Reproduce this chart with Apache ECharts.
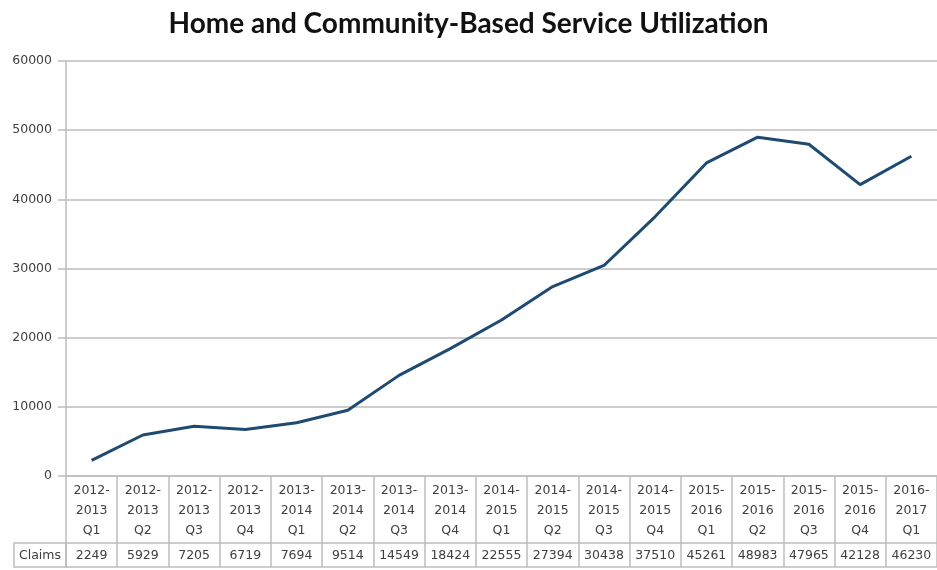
<!DOCTYPE html>
<html>
<head>
<meta charset="utf-8">
<script src="https://cdn.jsdelivr.net/npm/echarts@6/dist/echarts.min.js"></script>
<style>
html,body{margin:0;padding:0;background:#fff}
#main{width:937px;height:570px}
</style>
</head>
<body>
<div id="main"></div>
<script>
// quarters (fiscal year + quarter)
var quarters = ['2012-\n2013\nQ1','2012-\n2013\nQ2','2012-\n2013\nQ3','2012-\n2013\nQ4',
    '2013-\n2014\nQ1','2013-\n2014\nQ2','2013-\n2014\nQ3','2013-\n2014\nQ4',
    '2014-\n2015\nQ1','2014-\n2015\nQ2','2014-\n2015\nQ3','2014-\n2015\nQ4',
    '2015-\n2016\nQ1','2015-\n2016\nQ2','2015-\n2016\nQ3','2015-\n2016\nQ4',
    '2016-\n2017\nQ1']
var claims = [2249,5929,7205,6719,7694,9514,14549,18424,22555,27394,30438,37510,45261,48983,47965,42128,46230]
var yTicks = {min:0, max:60000, interval:10000}

var gridCol = '#bdbdbd'
var txtCol = '#404040'
var fnt = 'DejaVu Sans'

var myChart = echarts.init(document.getElementById('main'))
var option = {
    animation:false,
    title:{
        text:'Home and Community-Based Service Utilization',
        left:'center',
        top:5,
        textStyle:{fontFamily:'Lato',fontWeight:'bold',fontSize:28,color:'#111'}
    },
    grid:{left:66,right:-6,top:61,bottom:94,containLabel:false},
    xAxis:[
        {
            type:'category',
            data:quarters,
            boundaryGap:true,
            axisLine:{lineStyle:{color:gridCol,width:1.5}},
            axisTick:{show:true,interval:0,length:91,lineStyle:{color:gridCol,width:1.5}},
            axisLabel:{interval:0,margin:5,fontFamily:fnt,fontSize:12.5,lineHeight:20,color:txtCol}
        },
        {
            // claims row of the data table
            type:'category',
            position:'bottom',
            offset:67,
            data:claims.map(function(v){return String(v)}),
            boundaryGap:true,
            name:'Claims',
            nameLocation:'start',
            nameGap:5,
            nameTextStyle:{fontFamily:fnt,fontSize:12.5,color:txtCol,verticalAlign:'top',padding:[6,0,0,0]},
            axisLine:{lineStyle:{color:gridCol,width:1.5}},
            axisTick:{show:false},
            axisLabel:{interval:0,margin:6,fontFamily:fnt,fontSize:12.5,color:txtCol}
        },
        {
            type:'category',
            position:'bottom',
            offset:91,
            data:quarters,
            axisLine:{lineStyle:{color:gridCol,width:1.5}},
            axisTick:{show:false},
            axisLabel:{show:false}
        }
    ],
    yAxis:{
        type:'value',
        min:yTicks.min,
        max:yTicks.max,
        interval:yTicks.interval,
        axisLine:{show:true,lineStyle:{color:gridCol,width:1.5}},
        axisTick:{show:true,length:8,lineStyle:{color:gridCol,width:1.5}},
        axisLabel:{margin:14,fontFamily:fnt,fontSize:12.5,color:txtCol,
            formatter:function(v){return String(v)}},
        splitLine:{lineStyle:{color:gridCol,width:1.5}}
    },
    graphic:[
        {type:'rect',x:14,y:543,shape:{x:0,y:0,width:52,height:24},style:{fill:'none',stroke:gridCol,lineWidth:1.5}}
    ],
    series:[{
        name:'Claims',
        type:'line',
        data:claims,
        showSymbol:false,
        lineStyle:{color:'#1f4a72',width:3},
        itemStyle:{color:'#1f4a72'}
    }]
}
myChart.setOption(option)
</script>
</body>
</html>
